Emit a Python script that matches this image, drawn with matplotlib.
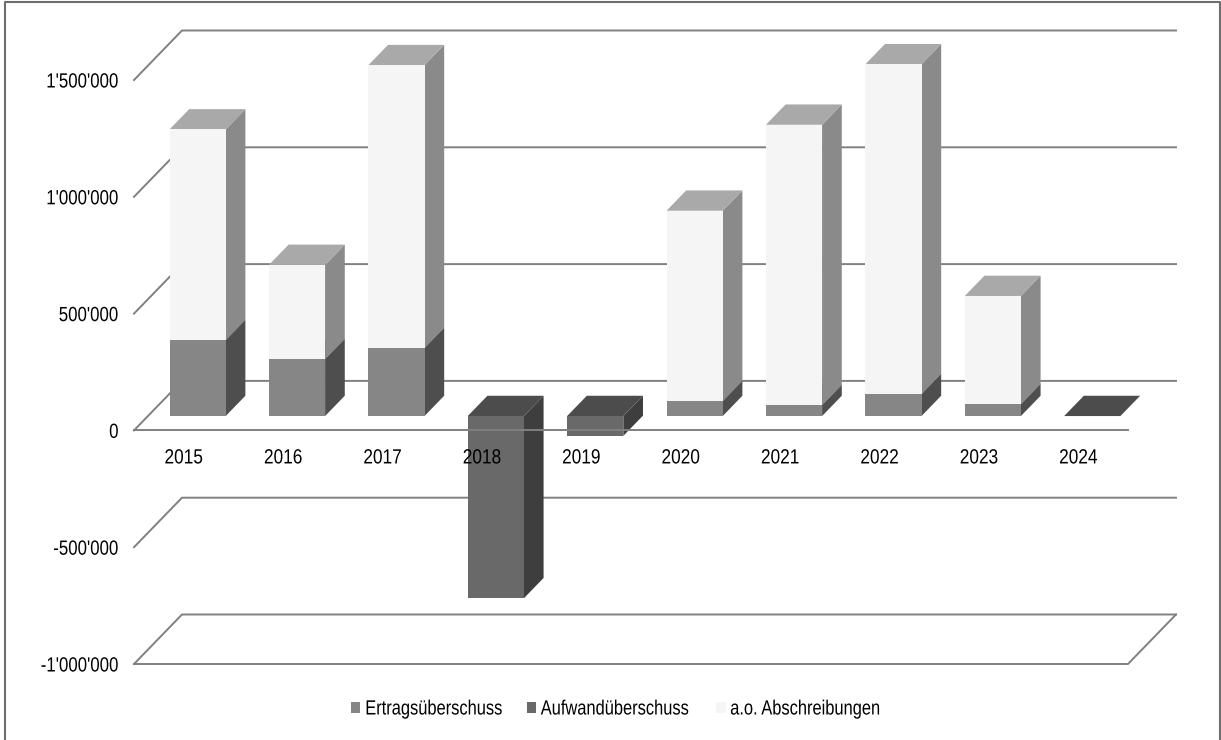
import matplotlib
matplotlib.use('Agg')
import matplotlib.pyplot as plt
from matplotlib.lines import Line2D
from matplotlib.patches import Patch, Polygon
from matplotlib.patheffects import AbstractPathEffect
from matplotlib.transforms import Affine2D

plt.rcParams['font.family'] = ['Liberation Sans', 'DejaVu Sans']

jahre = ['2015', '2016', '2017', '2018', '2019', '2020', '2021', '2022', '2023', '2024']
ertrag = [325000, 244000, 291000, 0, 0, 64000, 47000, 94000, 51000, 0]
aufwand = [0, 0, 0, -780000, -85000, 0, 0, 0, 0, -1000]
abschreibungen = [902000, 403000, 1211000, 0, 0, 815000, 1200000, 1412000, 463000, 0]

y_ticks = [-1000000, -500000, 0, 500000, 1000000, 1500000]
y_labels = ["-1'000'000", "-500'000", "0", "500'000", "1'000'000", "1'500'000"]

# front, side, top of every series
farbe_ertrag = ('#868686', '#4e4e4e', '#5f5f5f')
farbe_aufwand = ('#696969', '#3e3e3e', '#4c4c4c')
farbe_abschr = ('#f5f5f5', '#8a8a8a', '#a9a9a9')


class Schmal(AbstractPathEffect):
    # the text in the original is squeezed sideways
    def __init__(self, faktor, anker):
        super().__init__()
        self.faktor = faktor
        self.anker = anker

    def draw_path(self, renderer, gc, tpath, affine, rgbFace=None):
        box = tpath.get_extents(affine)
        x0 = box.x0 + self.anker * box.width
        neu = affine + Affine2D().translate(-x0, 0).scale(self.faktor, 1).translate(x0, 0)
        renderer.draw_path(gc, tpath, neu, rgbFace)


W, H = 1221, 740
fig = plt.figure(figsize=(W / 100, H / 100), dpi=100)
# front plane of the fake 3d box, in pixels
ax = fig.add_axes([134 / W, 1 - 664 / H, 994 / W, 584 / H])
ax.set_xlim(0, 10)
ax.set_ylim(-1000000, 1500000)
ax.patch.set_visible(False)

# depth of the box in data units
DX = 48 / 99.4
DY = 49.5 / 233.6 * 1000000
Z0, Z1 = 0.29, 0.70
BREITE = 0.565


def pt(x, v, z):
    return (x + z * DX, v + z * DY)


def saeule(i, unten, oben, farben):
    links = i + 0.5 - BREITE / 2
    rechts = i + 0.5 + BREITE / 2
    seite = [pt(rechts, unten, Z0), pt(rechts, unten, Z1), pt(rechts, oben, Z1), pt(rechts, oben, Z0)]
    deckel = [pt(links, max(unten, oben), Z0), pt(rechts, max(unten, oben), Z0),
              pt(rechts, max(unten, oben), Z1), pt(links, max(unten, oben), Z1)]
    vorne = [pt(links, unten, Z0), pt(rechts, unten, Z0), pt(rechts, oben, Z0), pt(links, oben, Z0)]
    ax.add_patch(Polygon(seite, closed=True, fc=farben[1], ec='none', clip_on=False))
    ax.add_patch(Polygon(deckel, closed=True, fc=farben[2], ec='none', clip_on=False))
    ax.add_patch(Polygon(vorne, closed=True, fc=farben[0], ec='none', clip_on=False))


# wall lines and the diagonals on the left
for v in y_ticks:
    ax.plot([0, DX, 10 + DX], [v, v + DY, v + DY], color='#808080', lw=1.4, zorder=0.5, clip_on=False)
# floor at the bottom
ax.plot([0, 10, 10 + DX], [-1000000, -1000000, -1000000 + DY], color='#808080', lw=1.4, zorder=0.5, clip_on=False)

for i in range(len(jahre)):
    if aufwand[i] != 0:
        saeule(i, 0, aufwand[i], farbe_aufwand)
    if ertrag[i] != 0:
        saeule(i, 0, ertrag[i], farbe_ertrag)
    if abschreibungen[i] != 0:
        saeule(i, ertrag[i], ertrag[i] + abschreibungen[i], farbe_abschr)

# spine first, moving it resets the ticks
for s in ['top', 'right', 'left']:
    ax.spines[s].set_visible(False)
ax.spines['bottom'].set_position(('data', 0))
ax.spines['bottom'].set_color('#808080')
ax.spines['bottom'].set_linewidth(1.4)

ax.set_xticks([i + 0.5 for i in range(len(jahre))])
ax.set_xticklabels(jahre)
ax.set_yticks(y_ticks)
ax.set_yticklabels(y_labels)
ax.tick_params(axis='x', length=0, pad=13, labelsize=14.8, labelcolor='black')
ax.tick_params(axis='y', length=0, pad=11, labelsize=14.8, labelcolor='black')
for t in ax.get_xticklabels():
    t.set_path_effects([Schmal(0.84, 0.5)])
for t in ax.get_yticklabels():
    t.set_path_effects([Schmal(0.82, 1.0)])

griffe = [Patch(fc=farbe_ertrag[0], ec='none', label='Ertragsüberschuss'),
          Patch(fc=farbe_aufwand[0], ec='none', label='Aufwandüberschuss'),
          Patch(fc=farbe_abschr[0], ec='none', label='a.o. Abschreibungen')]
leg = fig.legend(handles=griffe, loc='center', bbox_to_anchor=(634 / W, 1 - 709 / H), ncol=3, frameon=False,
                 fontsize=14.8, handlelength=0.44, handleheight=0.44, handletextpad=0.22, columnspacing=-0.42)
for t in leg.get_texts():
    t.set_path_effects([Schmal(0.8, 0.0)])

# outer frame, open at the bottom
rahmen = dict(color='#6e6e6e', lw=1.5, transform=fig.transFigure)
fig.add_artist(Line2D([4.5 / W, 4.5 / W, 1219.5 / W, 1219.5 / W], [0, 1 - 2 / H, 1 - 2 / H, 0], **rahmen))

fig.savefig('out.png', dpi=100)
